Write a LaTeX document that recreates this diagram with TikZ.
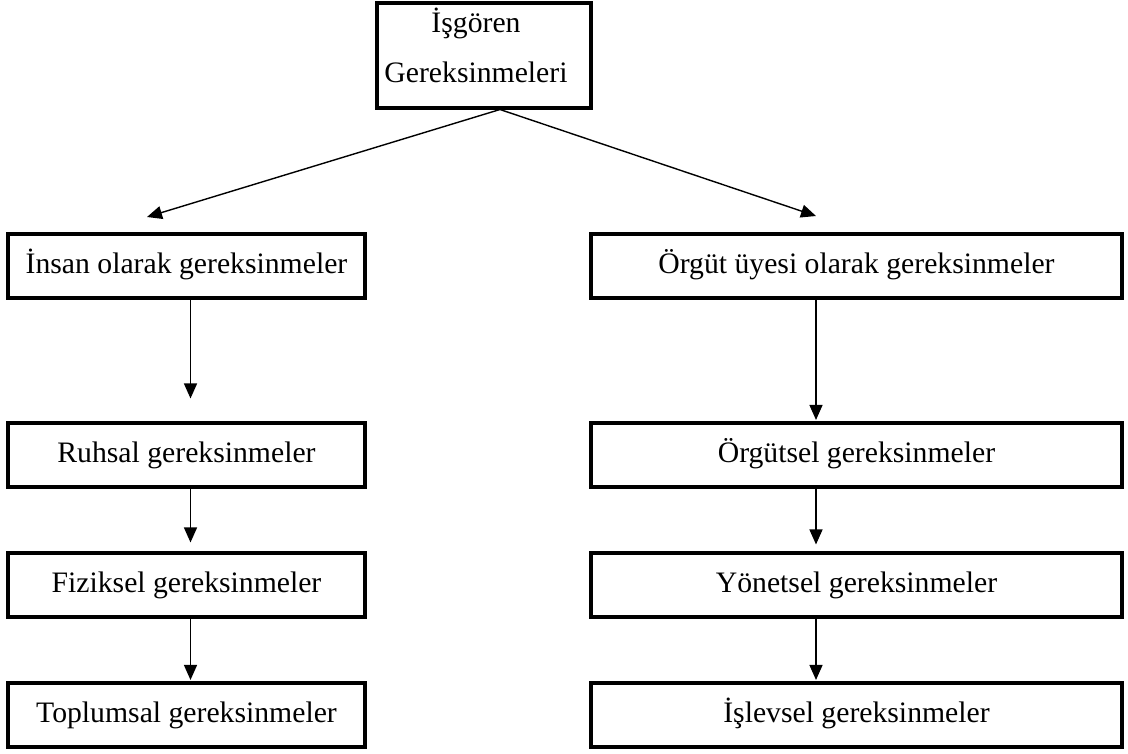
\documentclass[tikz,border=0pt]{standalone}
\usepackage{fontspec}
\setmainfont{Liberation Serif}
\usetikzlibrary{arrows.meta}
\begin{document}
\begin{tikzpicture}[x=1pt,y=-1pt,
  box/.style={draw, line width=3.1pt, rectangle, inner sep=0pt,
    minimum height=64pt, text height=20pt, text depth=6pt,
    font=\fontsize{29.7}{36}\selectfont},
  lbox/.style={box, minimum width=357pt},
  rbox/.style={box, minimum width=531pt},
  caption/.style={inner sep=0pt, anchor=base, font=\fontsize{29.7}{36}\selectfont},
  arr/.style={line width=1.4pt, -{Triangle[length=15pt,width=13pt]}}
]
\useasboundingbox (0,0) rectangle (1128,753);

% top box with its two-line title
\node[draw, line width=3.1pt, minimum width=214pt, minimum height=105pt, inner sep=0pt] (top) at (484,55.5) {};
\node[caption] (t1) at (476,32) {İşgören};
\node[caption] (t2) at (476,82) {Gereksinmeleri};

% left column
\node[lbox] (insan) at (186.5,266) {İnsan olarak gereksinmeler};
\node[lbox] (ruhsal) at (186.5,455) {Ruhsal gereksinmeler};
\node[lbox] (fiziksel) at (186.5,585) {Fiziksel gereksinmeler};
\node[lbox] (toplumsal) at (186.5,715) {Toplumsal gereksinmeler};

% right column
\node[rbox] (orgut) at (856.5,266) {Örgüt üyesi olarak gereksinmeler};
\node[rbox] (orgutsel) at (856.5,455) {Örgütsel gereksinmeler};
\node[rbox] (yonetsel) at (856.5,585) {Yönetsel gereksinmeler};
\node[rbox] (islevsel) at (856.5,715) {İşlevsel gereksinmeler};

% branching arrows from the top box
\coordinate (split) at (500,109.5);
\coordinate (ltip) at (147,217);
\coordinate (rtip) at (816,216);
\draw[arr] (split) -- (ltip);
\draw[arr] (split) -- (rtip);

% vertical arrows
\coordinate (lx) at (190.5,0);
\coordinate (rx) at (816,0);
\draw[arr, shorten >=23pt] (insan.south -| lx) -- (ruhsal.north -| lx);
\draw[arr, shorten >=9pt] (ruhsal.south -| lx) -- (fiziksel.north -| lx);
\draw[arr, shorten >=1.5pt] (fiziksel.south -| lx) -- (toplumsal.north -| lx);
\draw[arr, shorten >=1.5pt] (orgut.south -| rx) -- (orgutsel.north -| rx);
\draw[arr, shorten >=7pt] (orgutsel.south -| rx) -- (yonetsel.north -| rx);
\draw[arr, shorten >=1.5pt] (yonetsel.south -| rx) -- (islevsel.north -| rx);
\end{tikzpicture}
\end{document}
